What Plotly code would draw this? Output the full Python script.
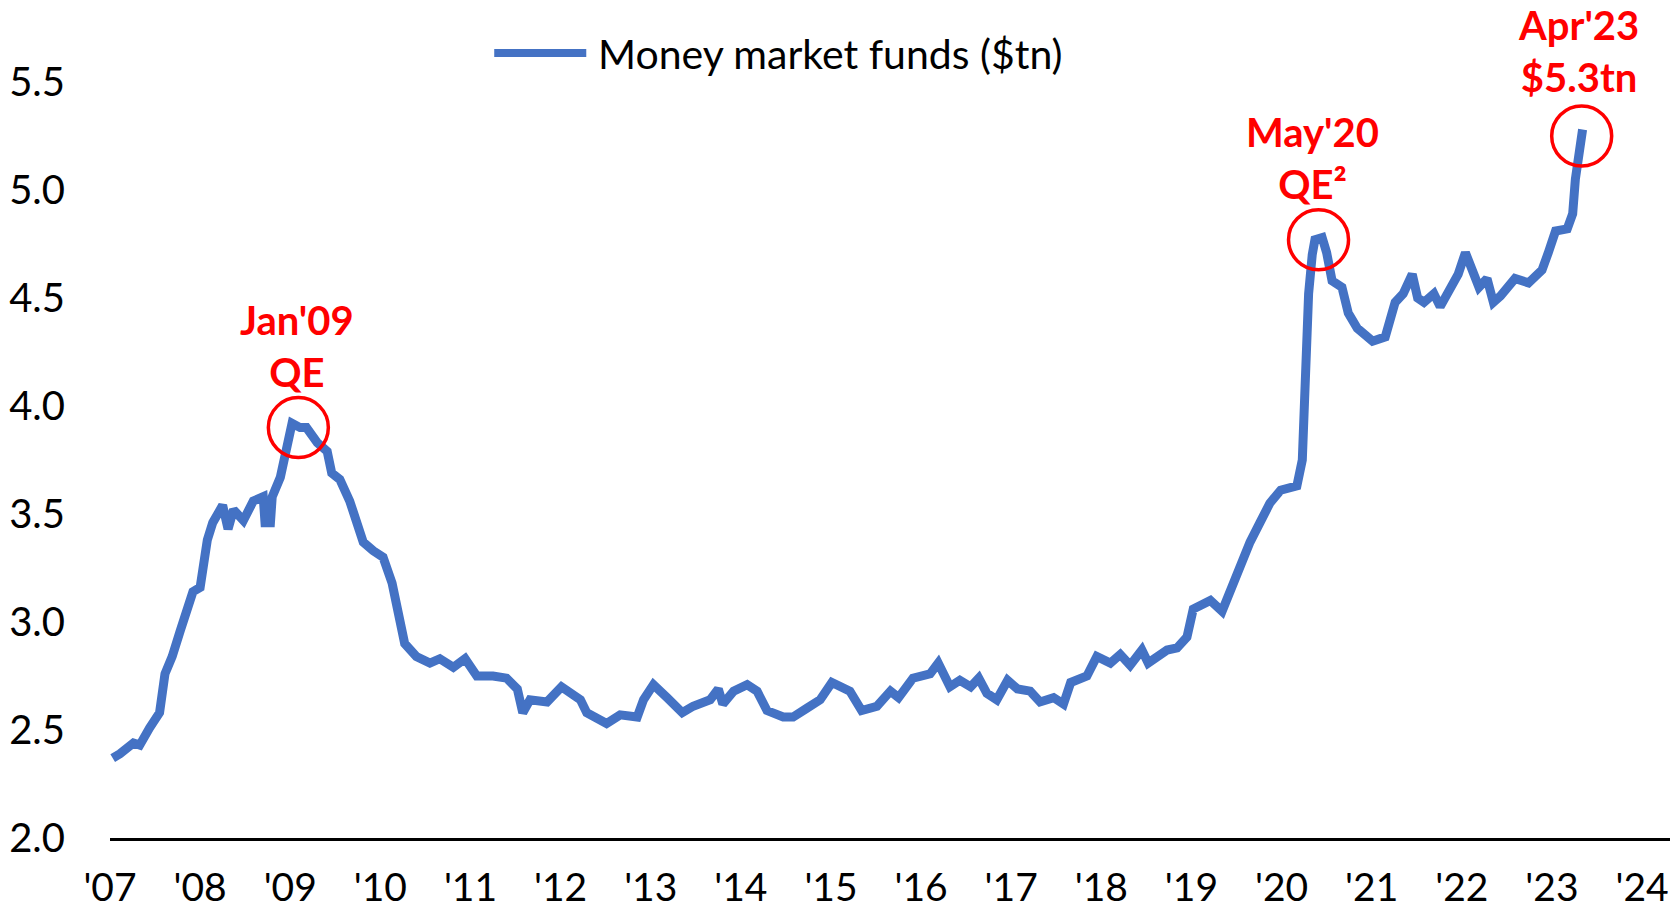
import plotly.graph_objects as go

# ---- data (decimal year, $tn) ----
years = [
    2007.03, 2007.11, 2007.26, 2007.33, 2007.44, 2007.55, 2007.61, 2007.69, 2007.78, 2007.87,
    2007.92, 2008.00, 2008.08, 2008.14, 2008.25, 2008.31, 2008.37, 2008.48, 2008.59, 2008.70,
    2008.72, 2008.78, 2008.80, 2008.89, 2008.94, 2009.02, 2009.11, 2009.18, 2009.30, 2009.41,
    2009.46, 2009.55, 2009.66, 2009.74, 2009.81, 2009.92, 2010.03, 2010.13, 2010.20, 2010.27,
    2010.40, 2010.55, 2010.66, 2010.81, 2010.94, 2011.07, 2011.25, 2011.40, 2011.52, 2011.58,
    2011.66, 2011.85, 2012.01, 2012.22, 2012.29, 2012.51, 2012.66, 2012.85, 2012.92, 2013.03,
    2013.18, 2013.35, 2013.47, 2013.66, 2013.75, 2013.80, 2013.92, 2014.07, 2014.18, 2014.29,
    2014.47, 2014.58, 2014.73, 2014.88, 2015.01, 2015.21, 2015.34, 2015.51, 2015.66, 2015.75,
    2015.91, 2016.10, 2016.19, 2016.32, 2016.43, 2016.55, 2016.64, 2016.73, 2016.84, 2016.96,
    2017.07, 2017.21, 2017.32, 2017.47, 2017.58, 2017.66, 2017.84, 2017.95, 2018.10, 2018.21,
    2018.32, 2018.45, 2018.52, 2018.73, 2018.84, 2018.95, 2019.02, 2019.21, 2019.34, 2019.43,
    2019.54, 2019.65, 2019.76, 2019.87, 2019.99, 2020.17, 2020.23, 2020.26, 2020.30, 2020.34,
    2020.37, 2020.45, 2020.50, 2020.56, 2020.67, 2020.74, 2020.84, 2021.01, 2021.15, 2021.26,
    2021.35, 2021.45, 2021.51, 2021.58, 2021.69, 2021.76, 2021.87, 2021.96, 2022.04, 2022.13,
    2022.19, 2022.28, 2022.35, 2022.43, 2022.59, 2022.74, 2022.89, 2022.96, 2023.04, 2023.17,
    2023.23, 2023.26, 2023.30, 2023.34,
]
mmf_tn = [
    2.37, 2.39, 2.44, 2.43, 2.51, 2.58, 2.76, 2.84, 2.96, 3.06,
    3.14, 3.16, 3.38, 3.46, 3.54, 3.43, 3.52, 3.47, 3.56, 3.58,
    3.46, 3.46, 3.58, 3.67, 3.78, 3.92, 3.90, 3.90, 3.83, 3.79,
    3.69, 3.66, 3.56, 3.46, 3.37, 3.33, 3.30, 3.18, 3.04, 2.90,
    2.84, 2.81, 2.83, 2.79, 2.83, 2.75, 2.75, 2.74, 2.69, 2.58,
    2.64, 2.63, 2.70, 2.64, 2.58, 2.53, 2.57, 2.56, 2.64, 2.71,
    2.65, 2.58, 2.61, 2.64, 2.69, 2.62, 2.68, 2.71, 2.68, 2.59,
    2.56, 2.56, 2.60, 2.64, 2.72, 2.68, 2.59, 2.61, 2.68, 2.65,
    2.74, 2.76, 2.81, 2.70, 2.73, 2.70, 2.74, 2.67, 2.64, 2.73,
    2.69, 2.68, 2.63, 2.65, 2.62, 2.72, 2.75, 2.84, 2.81, 2.85,
    2.80, 2.87, 2.81, 2.87, 2.88, 2.93, 3.06, 3.10, 3.05, 3.15,
    3.26, 3.37, 3.46, 3.55, 3.61, 3.63, 3.75, 4.12, 4.52, 4.70,
    4.77, 4.78, 4.71, 4.58, 4.55, 4.43, 4.36, 4.30, 4.32, 4.48,
    4.52, 4.61, 4.50, 4.48, 4.52, 4.46, 4.55, 4.61, 4.71, 4.61,
    4.55, 4.59, 4.48, 4.51, 4.59, 4.57, 4.63, 4.71, 4.81, 4.82,
    4.89, 5.05, 5.20, 5.28,
]
tick_years = list(range(2007, 2025))
tick_labels = ["'07", "'08", "'09", "'10", "'11", "'12", "'13", "'14", "'15",
               "'16", "'17", "'18", "'19", "'20", "'21", "'22", "'23", "'24"]
y_ticks = [2.0, 2.5, 3.0, 3.5, 4.0, 4.5, 5.0, 5.5]
series_name = "Money market funds ($tn)"

# callouts: label text, circle centre (year, value), text centre (year, value)
callout_text = ["Jan'09<br>QE", "May'20<br>QE²", "Apr'23<br>$5.3tn"]
callout_circle_x = [2009.09, 2020.41, 2023.33]
callout_circle_y = [3.90, 4.77, 5.25]
callout_text_x = [2009.07, 2020.34, 2023.29]
callout_text_y = [4.28, 5.146, 5.644]

FONT = "Lato"
BLUE = "#4472C4"
RED = "#FF0000"

fig = go.Figure()
fig.add_trace(go.Scatter(
    x=years, y=mmf_tn, mode="lines", name=series_name,
    line=dict(color=BLUE, width=9), showlegend=False,
))

# red circles around key points
for cx, cy in zip(callout_circle_x, callout_circle_y):
    fig.add_shape(type="circle", xref="x", yref="y",
                  xsizemode="pixel", ysizemode="pixel",
                  xanchor=cx, yanchor=cy, x0=-30, x1=30, y0=-30, y1=30,
                  line=dict(color=RED, width=3.5), layer="above")

for t, tx, ty in zip(callout_text, callout_text_x, callout_text_y):
    fig.add_annotation(x=tx, y=ty, xref="x", yref="y", text=t, showarrow=False,
                       font=dict(family=FONT, size=40, color=RED, weight="bold"),
                       align="center", xanchor="center", yanchor="middle")

# legend (drawn manually to match the long line sample)
fig.add_shape(type="line", xref="paper", yref="paper",
              x0=0.2463, x1=0.3053, y0=0.969, y1=0.969,
              line=dict(color=BLUE, width=8))
fig.add_annotation(x=0.3117, y=0.969, xref="paper", yref="paper", text=series_name,
                   showarrow=False, xanchor="left", yanchor="middle",
                   font=dict(family=FONT, size=41, color="#000000"))

fig.update_layout(
    width=1677, height=910,
    margin=dict(l=110, r=7, t=28, b=72),
    paper_bgcolor="white", plot_bgcolor="white",
    font=dict(family=FONT, size=39, color="#000000"),
)
fig.update_xaxes(
    range=[2007, 2024.31], tickmode="array", tickvals=tick_years, ticktext=tick_labels,
    showgrid=False, zeroline=False, showline=True, linecolor="#000000", linewidth=3,
    ticks="", ticklabelstandoff=13, automargin=False,
    tickfont=dict(family=FONT, size=39, color="#000000"),
)
fig.update_yaxes(
    range=[2.0, 5.75], tickmode="array", tickvals=y_ticks, tickformat=".1f",
    showgrid=False, zeroline=False, showline=False, ticks="",
    ticklabelstandoff=44, automargin=False,
    tickfont=dict(family=FONT, size=40, color="#000000"),
)

# remove the default 8px page margin so the figure fills the window exactly
fig.write_html(
    "out.html",
    config={"displayModeBar": False},
    post_script="document.body.style.margin='0';document.body.style.overflow='hidden';",
)
